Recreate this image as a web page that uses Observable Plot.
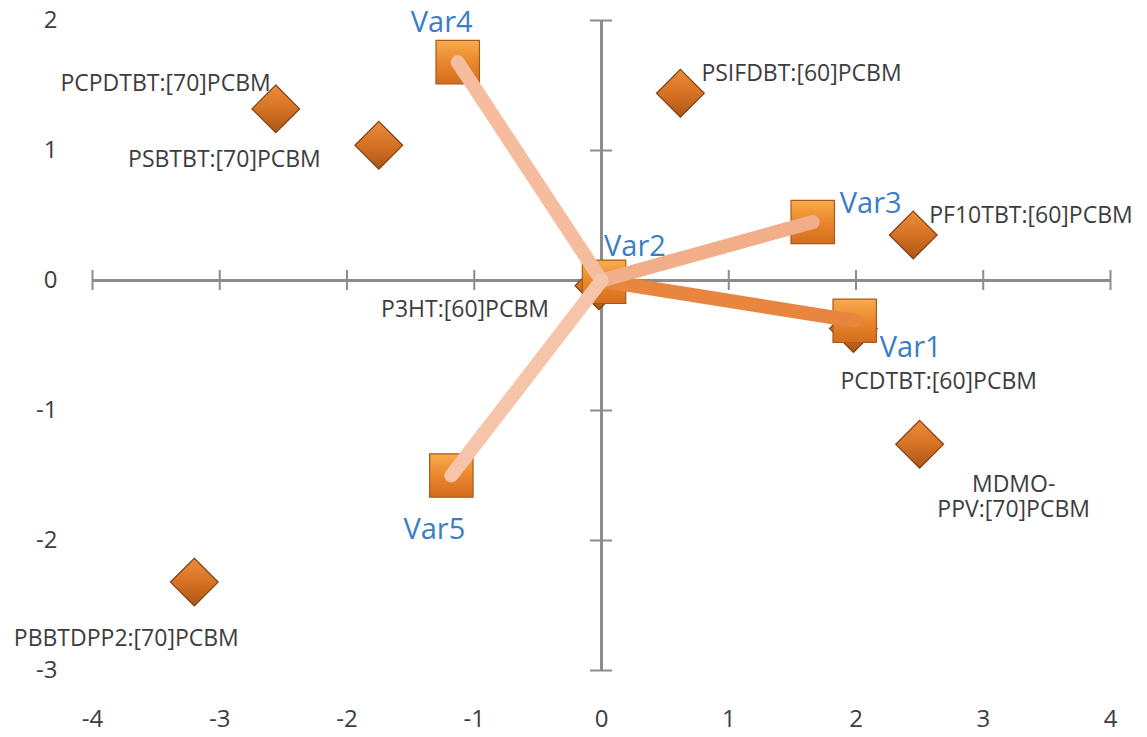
<!DOCTYPE html>
<html><head><meta charset="utf-8">
<script src="https://cdn.jsdelivr.net/npm/d3@7"></script>
<script src="https://cdn.jsdelivr.net/npm/@observablehq/plot@0.6"></script>
<style>body{margin:0;background:#fff}</style>
</head><body><div id="chart"></div>
<script>
// ---- data ----
const xTicks = [-4, -3, -2, -1, 0, 1, 2, 3, 4];
const yTicks = [-3, -2, -1, 0, 1, 2];
const samples = ["PCPDTBT:[70]PCBM", "PSBTBT:[70]PCBM", "PSIFDBT:[60]PCBM", "PF10TBT:[60]PCBM",
                 "P3HT:[60]PCBM", "PCDTBT:[60]PCBM", "MDMO-\nPPV:[70]PCBM", "PBBTDPP2:[70]PCBM"];
const sampleX = [-2.56, -1.75, 0.62, 2.45, -0.02, 1.98, 2.50, -3.20];
const sampleY = [1.32, 1.04, 1.44, 0.35, -0.04, -0.37, -1.26, -2.32];
const vars = ["Var1", "Var2", "Var3", "Var4", "Var5"];
const varX = [1.99, 0.02, 1.66, -1.13, -1.18];
const varY = [-0.31, -0.01, 0.45, 1.68, -1.50];

const sampleData = samples.map((name, i) => ({name, x: sampleX[i], y: sampleY[i]}));
const varData = vars.map((name, i) => ({name, x: varX[i], y: varY[i]}));

// ---- styles ----
const lineColor = {Var1: "#e8863f", Var2: "#f3b08a", Var3: "#f2ae88", Var4: "#f5bc9d", Var5: "#f6c4a9"};
const sampleLabelStyle = {
  "PCPDTBT:[70]PCBM": {textAnchor: "end", dx: -5, dy: -26},
  "PSBTBT:[70]PCBM": {textAnchor: "end", dx: -58, dy: 13},
  "PSIFDBT:[60]PCBM": {textAnchor: "start", dx: 21, dy: -21},
  "PF10TBT:[60]PCBM": {textAnchor: "start", dx: 16, dy: -20},
  "P3HT:[60]PCBM": {textAnchor: "end", dx: -50, dy: 23},
  "PCDTBT:[60]PCBM": {textAnchor: "start", dx: -13, dy: 52},
  "MDMO-\nPPV:[70]PCBM": {textAnchor: "middle", dx: 94, dy: 52},
  "PBBTDPP2:[70]PCBM": {textAnchor: "middle", dx: -68, dy: 56}
};
const varLabelStyle = {
  Var1: {textAnchor: "start", dx: 25, dy: 27},
  Var2: {textAnchor: "start", dx: 0, dy: -35},
  Var3: {textAnchor: "start", dx: 27, dy: -18},
  Var4: {textAnchor: "middle", dx: -16, dy: -39},
  Var5: {textAnchor: "middle", dx: -17, dy: 54}
};

const axisColor = "#8c8c8c";
const textColor = "#3d3d3d";

const marks = [
  // axes through the origin
  Plot.ruleY([0], {x1: -4, x2: 4, stroke: axisColor, strokeWidth: 3}),
  Plot.ruleX([0], {y1: -3, y2: 2, stroke: axisColor, strokeWidth: 3}),
  Plot.ruleX(xTicks, {x: d => d, y1: 0, y2: 0, insetTop: -10, insetBottom: -10, stroke: axisColor, strokeWidth: 2}),
  Plot.ruleY(yTicks, {y: d => d, x1: 0, x2: 0, insetLeft: -11, insetRight: -11, stroke: axisColor, strokeWidth: 2}),
  Plot.axisX(xTicks, {anchor: "bottom", tickSize: 0, tickPadding: 39, fontSize: 24, fill: textColor, tickFormat: d => `${d}`, label: null}),
  Plot.axisY(yTicks, {anchor: "left", tickSize: 0, tickPadding: 35, fontSize: 24, fill: textColor, tickFormat: d => `${d}`, label: null}),
  // samples (diamonds)
  Plot.dot(sampleData, {x: "x", y: "y", symbol: "diamond2", r: 21.5, fill: "url(#diaGrad)", stroke: "#7c3d12", strokeWidth: 1.2, ariaLabel: "sample-dot"}),
  // variables (squares)
  Plot.dot(varData, {x: "x", y: "y", symbol: "square", r: 24.5, fill: "url(#sqGrad)", stroke: "#a9581a", strokeWidth: 1.2, ariaLabel: "var-dot"}),
  // loading vectors
  Plot.link(varData.filter(d => d.name !== "Var2"), {x1: () => 0, y1: () => 0, x2: "x", y2: "y",
    stroke: d => lineColor[d.name], strokeWidth: 14, strokeLinecap: "round"}),
];
// sample labels
sampleData.forEach(d => {
  const s = sampleLabelStyle[d.name];
  marks.push(Plot.text([d], {x: "x", y: "y", text: "name", fill: textColor, fontSize: 23,
    lineHeight: 1.12, textAnchor: s.textAnchor, dx: s.dx, dy: s.dy}));
});
// var labels
varData.forEach(d => {
  const s = varLabelStyle[d.name];
  marks.push(Plot.text([d], {x: "x", y: "y", text: "name", fill: "#3a7ec6", fontSize: 29,
    textAnchor: s.textAnchor, dx: s.dx, dy: s.dy}));
});

const svg = Plot.plot({
  width: 1147,
  height: 737,
  marginLeft: 92,
  marginRight: 37,
  marginTop: 20,
  marginBottom: 67,
  x: {domain: [-4, 4]},
  y: {domain: [-3, 2]},
  style: {fontFamily: "'Open Sans', sans-serif", background: "#fff"},
  marks
});

const defs = d3.select(svg).insert("defs", ":first-child");
const sq = defs.append("linearGradient").attr("id", "sqGrad").attr("x1", 0).attr("y1", 0).attr("x2", 0).attr("y2", 1);
sq.append("stop").attr("offset", "0%").attr("stop-color", "#f7ad4e");
sq.append("stop").attr("offset", "45%").attr("stop-color", "#ec8a2e");
sq.append("stop").attr("offset", "100%").attr("stop-color", "#d46c1c");
const dia = defs.append("linearGradient").attr("id", "diaGrad").attr("x1", 0).attr("y1", 0).attr("x2", 0).attr("y2", 1);
dia.append("stop").attr("offset", "0%").attr("stop-color", "#ea8d3c");
dia.append("stop").attr("offset", "50%").attr("stop-color", "#d67224");
dia.append("stop").attr("offset", "100%").attr("stop-color", "#ab5617");
const f = defs.append("filter").attr("id", "shadow").attr("x", "-30%").attr("y", "-30%").attr("width", "160%").attr("height", "160%");
f.append("feDropShadow").attr("dx", 2).attr("dy", 3).attr("stdDeviation", 2).attr("flood-color", "#000").attr("flood-opacity", 0.3);
d3.select(svg).selectAll('g[aria-label="sample-dot"], g[aria-label="var-dot"]').attr("filter", "url(#shadow)");

document.getElementById("chart").appendChild(svg);
</script>
</body></html>
